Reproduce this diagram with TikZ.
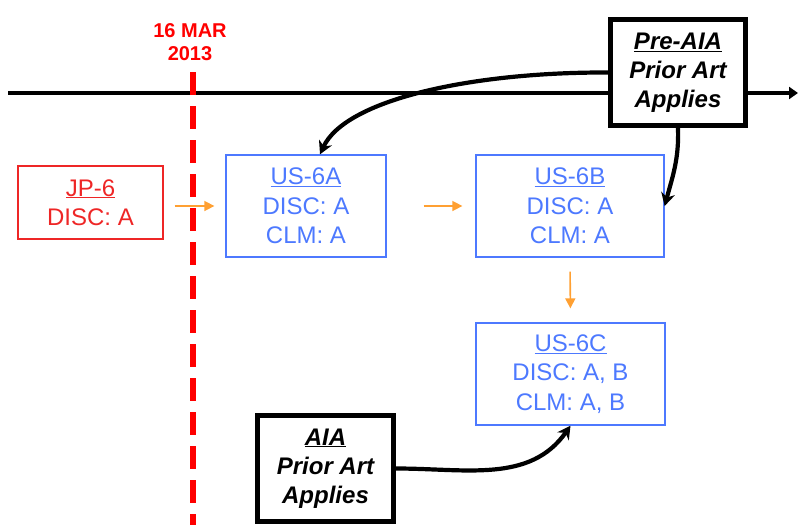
\documentclass[tikz,border=0pt]{standalone}
\usepackage{fontspec}
\setmainfont{Liberation Sans}
\usepackage{xcolor}
\usetikzlibrary{arrows.meta,calc}
\definecolor{usblue}{RGB}{77,121,255}
\definecolor{jpred}{RGB}{238,38,38}
\definecolor{dashred}{RGB}{255,0,0}
\definecolor{flow}{RGB}{255,160,50}

\begin{document}
\begin{tikzpicture}[x=1pt,y=-1pt,
  font=\fontsize{24}{29.5}\selectfont,
  fam/.style={draw=usblue,text=usblue,line width=1.3pt,align=center,inner sep=0pt},
  jp/.style={draw=jpred,text=jpred,line width=1.3pt,align=center,inner sep=0pt},
  law/.style={draw=black,fill=white,line width=5pt,align=center,inner sep=0pt,
    font=\fontsize{24}{29}\selectfont\bfseries\itshape},
  oarr/.style={draw=flow,line width=1.6pt,-{Triangle[length=10pt,width=10pt]}},
  barr/.style={line width=4.2pt,-{Stealth[length=13pt,width=14pt]}}]
  \useasboundingbox (0,0) rectangle (798,525);
  % time line and cut-off date
  \coordinate (t0) at (8,93);
  \coordinate (t1) at (798,93);
  \draw[line width=4.2pt,-{Triangle[length=9pt,width=12pt]}] (t0) -- (t1);
  \coordinate (d0) at (193,72);
  \coordinate (d1) at (193,525);
  \draw[dashred,line width=5.5pt,dash pattern=on 23pt off 11pt] (d0) -- (d1);
  \node[text=dashred,align=center,font=\fontsize{20}{23}\selectfont\bfseries] (date) at (190,42) {16 MAR\\2013};
  % applications
  \node[jp,minimum width=145,minimum height=73] (jp6) at (90.5,202.5) {\underline{JP-6}\\DISC: A};
  \node[fam,minimum width=160,minimum height=102] (us6a) at (306,206) {\underline{US-6A}\\DISC: A\\CLM: A};
  \node[fam,minimum width=188,minimum height=102] (us6b) at (570,206) {\underline{US-6B}\\DISC: A\\CLM: A};
  \node[fam,minimum width=189,minimum height=102] (us6c) at (570.5,374) {\underline{US-6C}\\DISC: A, B\\CLM: A, B};
  % prior art regimes
  \node[law,minimum width=135,minimum height=106] (pre) at (678,72.5) {\underline{Pre-AIA}\\Prior Art\\Applies};
  \node[law,minimum width=136,minimum height=106] (aia) at (325.5,468.5) {\underline{AIA}\\Prior Art\\Applies};
  % priority chain
  \draw[oarr,shorten <=11pt,shorten >=11pt] (jp6.east |- us6a.west) -- (us6a.west);
  \draw[oarr,shorten <=37pt,shorten >=13pt] (us6a.east) -- (us6b.west);
  \draw[oarr,shorten <=14pt,shorten >=14pt] (us6b.south) -- (us6c.north);
  % which law applies
  \draw[barr] (pre.west) .. controls (470,72) and (345,100) .. ($(us6a.north)+(14,0)$);
  \draw[barr] (pre.south) to[out=-88,in=75] (us6b.east);
  \draw[barr] (aia.east) to[out=0,in=-125] (us6c.south);
\end{tikzpicture}
\end{document}
